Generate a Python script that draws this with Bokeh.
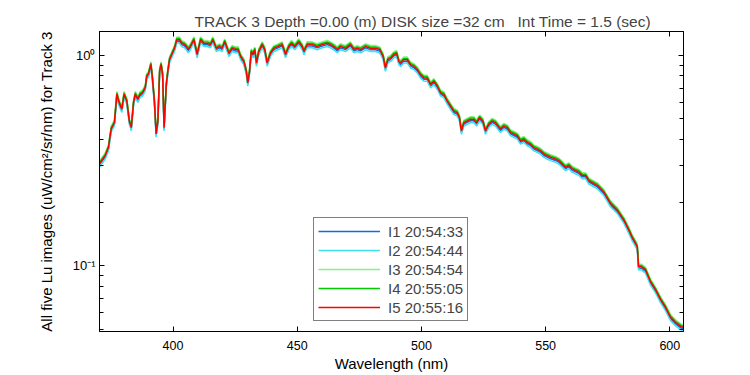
from bokeh.plotting import figure
from bokeh.models import (ColumnDataSource, Range1d, FixedTicker, LinearAxis, LogAxis,
                          Legend, LegendItem, CustomJSTickFormatter)
from bokeh.embed import file_html
from bokeh.resources import INLINE

# ---- data ----
wavelength = [370.4, 372.7, 374.0, 375.1, 376.4, 377.4, 378.3, 379.4, 380.3, 381.4,
              382.4, 383.2, 384.1, 384.8, 385.8, 386.8, 387.7, 388.8, 389.4, 390.1,
              391.1, 391.7, 392.5, 393.2, 393.9, 394.6, 395.2, 395.8, 396.4, 397.3,
              397.9, 398.6, 399.5, 400.6, 401.5, 402.5, 403.5, 404.6, 405.4, 406.1,
              407.0, 408.4, 409.7, 411.1, 412.4, 413.8, 415.1, 416.0, 417.4, 418.7,
              419.8, 420.8, 422.5, 423.8, 425.2, 426.2, 427.2, 428.5, 429.5, 430.1,
              430.8, 431.5, 432.3, 432.9, 433.6, 434.5, 435.9, 436.9, 437.9, 439.2,
              440.6, 442.3, 443.9, 445.3, 446.6, 447.7, 449.0, 450.6, 452.0, 452.7,
              454.0, 456.0, 458.0, 460.1, 462.1, 463.4, 464.7, 466.1, 467.4, 469.4,
              471.4, 472.8, 474.1, 475.5, 477.5, 479.5, 481.5, 483.2, 484.6, 485.5,
              486.5, 487.6, 488.9, 490.0, 490.9, 491.6, 492.9, 494.3, 495.6, 497.0,
              498.3, 499.6, 501.0, 502.3, 503.7, 505.0, 506.4, 507.7, 509.0, 510.4,
              511.7, 513.0, 514.4, 515.3, 516.1, 517.1, 518.4, 519.8, 521.1, 522.2,
              523.4, 524.7, 525.8, 527.1, 528.5, 529.8, 531.8, 533.2, 534.5, 535.9,
              537.2, 538.6, 539.9, 541.2, 542.6, 543.9, 545.2, 546.6, 547.9, 549.3,
              550.6, 552.0, 554.0, 555.3, 556.7, 558.0, 559.3, 560.7, 562.0, 563.4,
              564.7, 566.1, 567.4, 570.8, 573.4, 576.1, 578.8, 581.5, 583.5, 584.9,
              586.2, 586.9, 587.4, 588.6, 590.2, 592.2, 594.2, 596.3, 598.3, 600.3,
              602.3, 604.4, 605.5]

lu_i5 = [0.306, 0.334, 0.365, 0.448, 0.479, 0.655, 0.596, 0.556, 0.655, 0.607,
         0.488, 0.454, 0.596, 0.655, 0.620, 0.655, 0.664, 0.701, 0.796, 0.814,
         0.907, 0.782, 0.607, 0.424, 0.488, 0.840, 0.907, 0.814, 0.454, 0.730,
         0.840, 0.957, 1.011, 1.082, 1.186, 1.190, 1.143, 1.127, 1.103, 1.067,
         1.103, 1.190, 1.011, 1.190, 1.143, 1.143, 1.127, 1.190, 1.082, 1.103,
         1.082, 1.164, 1.025, 1.082, 1.067, 1.067, 0.989, 0.937, 0.840, 0.740,
         0.840, 1.044, 1.011, 1.067, 0.920, 1.044, 1.127, 1.067, 0.920, 1.025,
         1.082, 1.103, 1.127, 1.011, 1.103, 1.143, 1.103, 1.164, 1.103, 1.044,
         1.127, 1.127, 1.103, 1.127, 1.143, 1.127, 1.103, 1.067, 1.103, 1.082,
         1.127, 1.067, 1.082, 1.067, 1.103, 1.082, 1.082, 1.067, 0.989, 0.871,
         0.957, 0.971, 1.011, 1.025, 0.937, 0.920, 0.954, 0.954, 0.904, 0.887,
         0.856, 0.811, 0.782, 0.782, 0.727, 0.754, 0.714, 0.664, 0.653, 0.607,
         0.575, 0.544, 0.534, 0.506, 0.438, 0.479, 0.488, 0.497, 0.497, 0.479,
         0.506, 0.488, 0.438, 0.471, 0.488, 0.479, 0.446, 0.462, 0.454, 0.430,
         0.423, 0.415, 0.393, 0.400, 0.386, 0.379, 0.365, 0.359, 0.352, 0.340,
         0.334, 0.328, 0.322, 0.316, 0.305, 0.294, 0.300, 0.289, 0.284, 0.279,
         0.269, 0.269, 0.254, 0.241, 0.224, 0.198, 0.184, 0.165, 0.148, 0.136,
         0.128, 0.123, 0.0992, 0.0990, 0.0957, 0.0841, 0.0771, 0.0691, 0.0634, 0.0569,
         0.0538, 0.0515, 0.0510]

series_names = ["I1 20:54:33", "I2 20:54:44", "I3 20:54:54", "I4 20:55:05", "I5 20:55:16"]
series_gain = [0.985, 0.965, 1.03, 1.015, 1.0]
series_colors = ["#0a6fe0", "#40e0f0", "#88f088", "#00cc00", "#ff0000"]

x_ticks = [400, 450, 500, 550, 600]
y_ticks = [0.1, 1.0]
y_minor = [0.05, 0.06, 0.07, 0.08, 0.09, 0.2, 0.3, 0.4, 0.5, 0.6, 0.7, 0.8, 0.9]

title_text = "TRACK 3 Depth =0.00 (m) DISK size =32 cm\u00a0\u00a0 Int Time = 1.5 (sec)"
x_label = "Wavelength (nm)"
y_label = "All five Lu images (uW/cm\u00b2/sr/nm) for Track 3"

FONT = "Liberation Sans"

n = min(len(wavelength), len(lu_i5))
data = {"wl": wavelength[:n]}
for i, g in enumerate(series_gain):
    data["s%d" % i] = [v * g for v in lu_i5[:n]]
source = ColumnDataSource(data)

p = figure(width=742, height=374, y_axis_type="log",
           x_range=Range1d(370.4, 605.5), y_range=Range1d(0.0488, 1.30),
           output_backend="svg", toolbar_location=None,
           min_border_left=99, min_border_right=59, min_border_top=31, min_border_bottom=42)

p.background_fill_color = "white"
p.border_fill_color = "white"
p.outline_line_color = "black"
p.outline_line_width = 1
p.xgrid.visible = False
p.ygrid.visible = False

p.title.text = title_text
p.title.text_font = FONT
p.title.text_font_size = "15.5px"
p.title.text_font_style = "normal"
p.title.align = "left"
p.title.offset = 95
p.title.standoff = 4

def style_axis(ax, labels=True):
    ax.major_tick_in = 5
    ax.major_tick_out = 0
    ax.minor_tick_in = 4
    ax.minor_tick_out = 0
    ax.axis_line_color = "black"
    ax.major_tick_line_color = "black"
    ax.minor_tick_line_color = "black"
    if labels:
        ax.major_label_text_font = FONT
        ax.major_label_text_font_size = "12.5px"
        ax.major_label_text_color = "black"
        ax.axis_label_text_font = FONT
        ax.axis_label_text_font_size = "15px"
        ax.axis_label_text_font_style = "normal"
        ax.axis_label_text_color = "black"
    else:
        ax.major_label_text_font_size = "1px"
        ax.major_label_text_alpha = 0.0
        ax.major_label_standoff = 0

xa = p.xaxis[0]
xa.ticker = FixedTicker(ticks=x_ticks, minor_ticks=[])
style_axis(xa)
xa.axis_label = x_label
xa.major_label_standoff = 9
xa.axis_label_standoff = 2

ya = p.yaxis[0]
ya.ticker = FixedTicker(ticks=y_ticks, minor_ticks=y_minor)
ya.formatter = CustomJSTickFormatter(code="return tick < 0.5 ? '10\u207b\u00b9' : '10\u2070';")
style_axis(ya)
ya.major_label_text_font_size = "13px"
ya.axis_label = y_label
ya.major_label_standoff = 4
ya.axis_label_standoff = 15

top = LinearAxis(ticker=FixedTicker(ticks=x_ticks, minor_ticks=[]))
style_axis(top, labels=False)
p.add_layout(top, "above")

right = LogAxis(ticker=FixedTicker(ticks=y_ticks, minor_ticks=y_minor))
style_axis(right, labels=False)
p.add_layout(right, "right")

items = []
for i, (name, col) in enumerate(zip(series_names, series_colors)):
    r = p.line("wl", "s%d" % i, source=source, line_color=col, line_width=1.5)
    items.append(LegendItem(label=name, renderers=[r]))

legend = Legend(items=items, location=(214, 10))
legend.border_line_color = "black"
legend.border_line_width = 1
legend.background_fill_color = "white"
legend.background_fill_alpha = 1.0
legend.padding = 4
legend.spacing = 1
legend.margin = 0
legend.label_height = 18
legend.glyph_height = 18
legend.glyph_width = 62
legend.label_standoff = 8
legend.label_text_font = FONT
legend.label_text_font_size = "15px"
p.add_layout(legend, "center")

open("out.html", "w").write(file_html(p, INLINE))
